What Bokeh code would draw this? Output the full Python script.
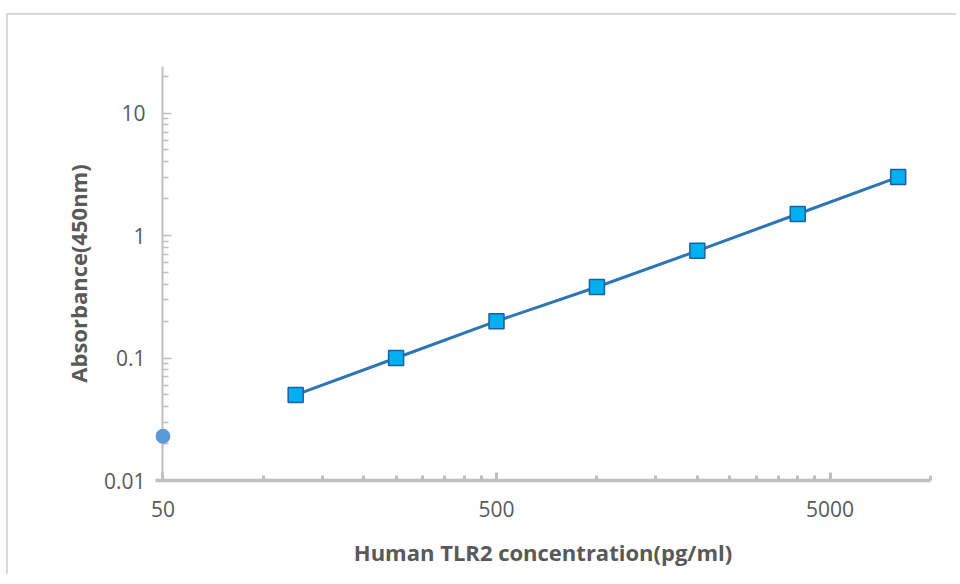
from bokeh.plotting import figure
from bokeh.models import Range1d, FixedTicker, CustomJSTickFormatter, LogAxis
from bokeh.embed import file_html
from bokeh.resources import INLINE

# Data
conc = [125, 250, 500, 1000, 2000, 4000, 8000]          # pg/ml
absorb = [0.05, 0.1, 0.2, 0.38, 0.75, 1.5, 3.0]         # OD 450nm
blank_conc = [50]
blank_absorb = [0.023]

x_major = [50, 500, 5000]
x_minor = [100, 150, 200, 250, 300, 350, 400, 450,
           1000, 1500, 2000, 2500, 3000, 3500, 4000, 4500, 10000]
y_major = [0.01, 0.1, 1, 10]
y_minor = [0.02, 0.03, 0.04, 0.05, 0.06, 0.07, 0.08, 0.09,
           0.2, 0.3, 0.4, 0.5, 0.6, 0.7, 0.8, 0.9,
           2, 3, 4, 5, 6, 7, 8, 9, 20]

AXIS = "#bfbfbf"
TEXT = "#595959"
FONT = "Open Sans"

p = figure(width=952, height=561,
           x_axis_type="log", y_axis_type="log",
           x_range=Range1d(47.5, 10000), y_range=Range1d(0.01, 24),
           output_backend="svg", toolbar_location=None,
           min_border_left=147, min_border_right=30,
           min_border_top=51, min_border_bottom=96,
           margin=(15, 0, 0, 8),
           styles={"box-shadow": "-2px -2px 0 0 #d9d9d9",
                   "clip-path": "inset(-3px 4px 0px -3px)"})
p.outline_line_color = None
p.xgrid.visible = False
p.ygrid.visible = False

fmt = CustomJSTickFormatter(code="return String(Number(tick.toPrecision(6)));")
blank_fmt = CustomJSTickFormatter(code="return '';")

xa = p.xaxis[0]
xa.ticker = FixedTicker(ticks=x_major, minor_ticks=x_minor)
xa.formatter = fmt
xa.axis_line_color = AXIS
xa.axis_line_width = 3.5
xa.major_tick_in = 8
xa.major_tick_out = 0
xa.minor_tick_in = 5
xa.minor_tick_out = 0
xa.major_tick_line_color = AXIS
xa.major_tick_line_width = 3
xa.minor_tick_line_color = AXIS
xa.minor_tick_line_width = 3
xa.major_label_text_color = TEXT
xa.major_label_text_font = FONT
xa.major_label_text_font_size = "21px"
xa.major_label_standoff = 20
xa.axis_label = "Human TLR2 concentration(pg/ml)"
xa.axis_label_text_font = FONT
xa.axis_label_text_font_style = "bold"
xa.axis_label_text_font_size = "22px"
xa.axis_label_text_color = TEXT
xa.axis_label_standoff = 17

# labelled y axis (at the frame edge): only tick labels and title
ya = p.yaxis[0]
ya.ticker = FixedTicker(ticks=y_major, minor_ticks=y_minor)
ya.formatter = fmt
ya.axis_line_color = None
ya.major_tick_line_color = None
ya.minor_tick_line_color = None
ya.major_tick_in = 0
ya.major_tick_out = 0
ya.minor_tick_in = 0
ya.minor_tick_out = 0
ya.major_label_text_color = TEXT
ya.major_label_text_font = FONT
ya.major_label_text_font_size = "21px"
ya.major_label_standoff = 10
ya.axis_label = "Absorbance(450nm)"
ya.axis_label_text_font = FONT
ya.axis_label_text_font_style = "bold"
ya.axis_label_text_font_size = "22px"
ya.axis_label_text_color = TEXT
ya.axis_label_standoff = 8

# y axis line and ticks, drawn at x = 50, beneath the data marks
yline = LogAxis(fixed_location=blank_conc[0],
                ticker=FixedTicker(ticks=y_major, minor_ticks=y_minor),
                formatter=blank_fmt,
                axis_line_color=AXIS, axis_line_width=2,
                major_tick_in=9, major_tick_out=0,
                minor_tick_in=6, minor_tick_out=0,
                major_tick_line_color=AXIS, major_tick_line_width=1.5,
                minor_tick_line_color=AXIS, minor_tick_line_width=1.5,
                major_label_standoff=0, level="underlay")
p.add_layout(yline, "left")

p.line(conc, absorb, line_color="#2e75b6", line_width=3)
p.scatter(conc, absorb, marker="square", size=15,
          fill_color="#00b0f0", line_color="#1f5f9f", line_width=1.5)
p.scatter(blank_conc, blank_absorb, marker="circle", size=15,
          fill_color="#5b9bd5", line_color=None)

open("out.html", "w").write(file_html(p, INLINE))
